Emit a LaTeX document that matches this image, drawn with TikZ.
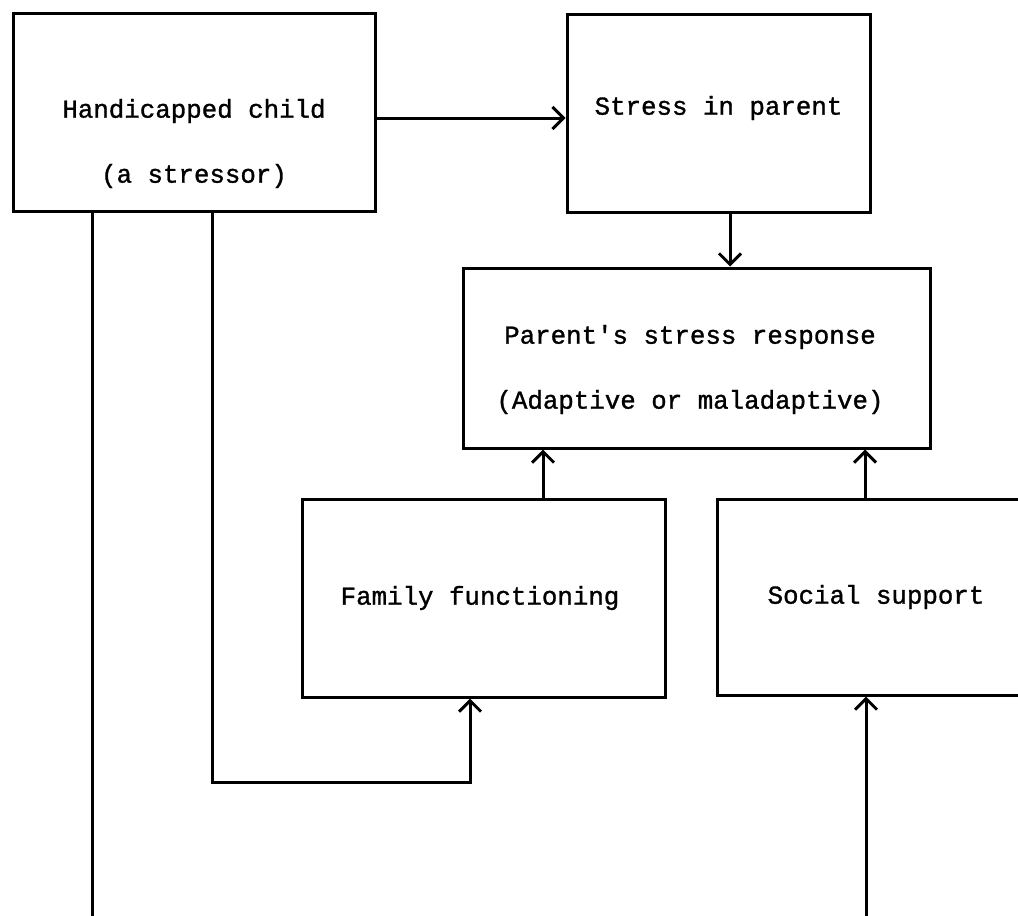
\documentclass[tikz,border=0pt]{standalone}
\usepackage{fontspec}
\setmonofont{Liberation Mono}[FakeBold=1.2]
\usetikzlibrary{arrows.meta}
\tikzset{
    box/.style={draw, line width=3pt, inner sep=0pt},
    lbl/.style={font=\ttfamily\fontsize{25.8pt}{65pt}\selectfont, align=center},
    wire/.style={line width=3pt},
    arr/.style={wire, -{Straight Barb[length=11pt,width=22pt,line width=3pt]}},
}
\begin{document}
\begin{tikzpicture}[x=1pt,y=-1pt]
        \useasboundingbox (0,0) rectangle (1018,916);
        \clip (0,0) rectangle (1018,916);
        \def\boxHeight{198pt}

        \node[box, minimum width=362pt, minimum height=\boxHeight] (child) at (194,112.5) {};
        \node[box, minimum width=303pt, minimum height=\boxHeight] (stress) at (718.5,113.5) {};
        \node[box, minimum width=467pt, minimum height=180pt] (response) at (696.5,358) {};
        \node[box, minimum width=363pt, minimum height=\boxHeight] (family) at (483.5,598) {};
        \node[box, minimum width=318pt, minimum height=196pt] (support) at (876,597) {};

        \node[lbl] (childText) at (194,143.5) {Handicapped child\\(a stressor)};
        \node[lbl] (stressText) at (718.5,108) {Stress in parent};
        \node[lbl] (responseText) at (690,369.5) {Parent's stress response\\(Adaptive or maladaptive)};
        \node[lbl] (familyText) at (480,598) {Family functioning};
        \node[lbl] (supportText) at (876,597) {Social support};

        \coordinate (familyBend) at (470,782);
        \coordinate (childEnd) at (92,916);
        \coordinate (supportStart) at (866,916);

        \draw[arr] ([yshift=-5.5pt]child.east) -- ([yshift=-5.5pt]child.east -| stress.west);
        \draw[arr] ([xshift=11.5pt]stress.south) -- ([xshift=11.5pt]stress.south |- response.north);
        \draw[arr] ([xshift=59.5pt]family.north) -- ([xshift=59.5pt]family.north |- response.south);
        \draw[arr] ([xshift=-11pt]support.north) -- ([xshift=-11pt]support.north |- response.south);
        \draw[arr] ([xshift=18pt]child.south) |- (familyBend) -- (familyBend |- family.south);
        \draw[wire] (childEnd |- child.south) -- (childEnd);
        \draw[arr] (supportStart) -- (supportStart |- support.south);
\end{tikzpicture}
\end{document}
